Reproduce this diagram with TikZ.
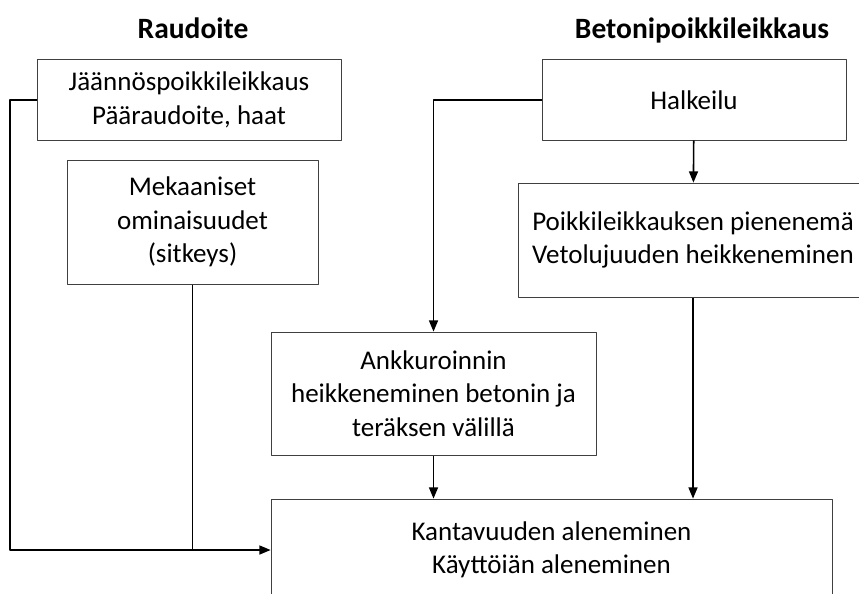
\documentclass[tikz,border=0pt]{standalone}
\usepackage{fontspec}
\setmainfont{Carlito}
\usepackage{tikz}
\usetikzlibrary{arrows}
\definecolor{boxgray}{rgb}{0.25,0.25,0.25}
\tikzstyle{laatikko}=[draw=boxgray,line width=1pt,align=center,inner sep=0pt,font=\fontsize{27}{33.5}\selectfont]
\tikzstyle{otsikko}=[anchor=base,font=\fontsize{29.5}{33}\selectfont\bfseries]
\tikzstyle{yhteys}=[line width=1.6pt]

\begin{document}
\begin{tikzpicture}[line join=round,>=triangle 45,x=1pt,y=-1pt]
                    \clip (0,0) rectangle (859,594);
                    \node[otsikko] (raudoite) at (193,39) {Raudoite};
                    \node[otsikko] (betoni) at (702,39) {Betonipoikkileikkaus};

                    \node[laatikko,minimum width=304pt,minimum height=80pt] (jaannos) at (189,100) {Jäännöspoikkileikkaus\\Pääraudoite, haat};
                    \node[laatikko,minimum width=251pt,minimum height=124pt] (mekaaniset) at (192.5,222) {Mekaaniset\\ominaisuudet\\(sitkeys)};
                    \node[laatikko,minimum width=304pt,minimum height=80pt] (halkeilu) at (694,100) {Halkeilu};
                    \node[laatikko,minimum width=350pt,minimum height=114pt] (poikki) at (693,240) {Poikkileikkauksen pienenemä\\Vetolujuuden heikkeneminen};
                    \node[laatikko,minimum width=325pt,minimum height=123pt] (ankkurointi) at (433.5,393.5) {Ankkuroinnin\\heikkeneminen betonin ja\\teräksen välillä};
                    \node[laatikko,minimum width=561pt,minimum height=102pt] (kantavuus) at (551.5,550) {Kantavuuden aleneminen\\Käyttöiän aleneminen};
                    \coordinate (vasen) at (10,100);

                    \draw [yhteys,->] (halkeilu) -- (poikki);
                    \draw [yhteys,->] (halkeilu.west) -| (ankkurointi.north);
                    \draw [yhteys,->] (ankkurointi.south) -- (ankkurointi.south |- kantavuus.north);
                    \draw [yhteys,->] (poikki.south) -- (poikki.south |- kantavuus.north);
                    \draw [yhteys,->] (jaannos.west) -- (vasen) |- (kantavuus.west);
                    \draw [yhteys] (mekaaniset.south) -- (mekaaniset.south |- kantavuus.west);
\end{tikzpicture}
\end{document}
